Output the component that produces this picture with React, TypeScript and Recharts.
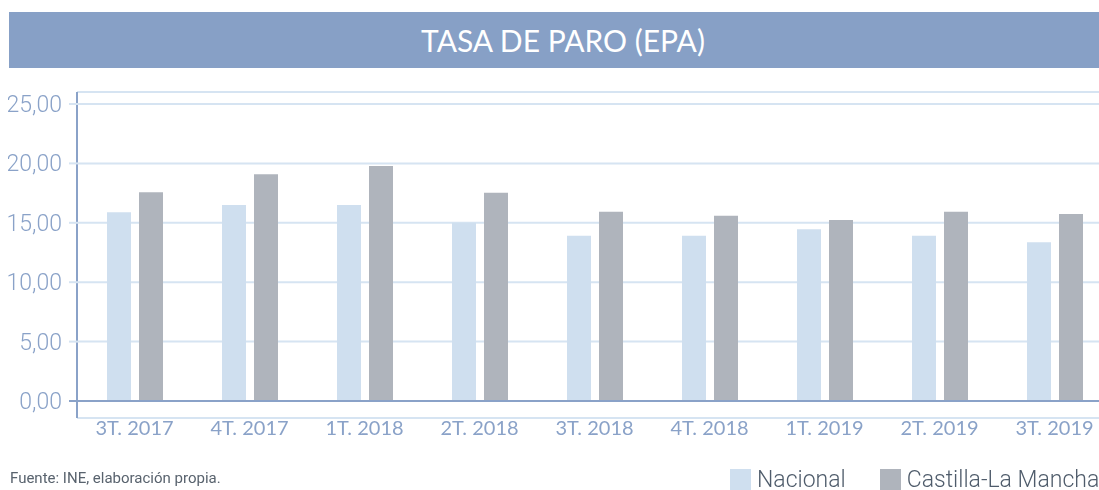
import { BarChart, Bar, XAxis, YAxis, CartesianGrid, ReferenceLine } from "recharts";

const quarters = ["3T. 2017", "4T. 2017", "1T. 2018", "2T. 2018", "3T. 2018", "4T. 2018", "1T. 2019", "2T. 2019", "3T. 2019"];
const nacional = [15.88, 16.5, 16.5, 15.0, 13.9, 13.9, 14.45, 13.9, 13.36];
const castillaLaMancha = [17.57, 19.08, 19.78, 17.53, 15.93, 15.6, 15.24, 15.93, 15.74];
const yTicks = [0, 5, 10, 15, 20, 25];

const seriesNames = ["Nacional", "Castilla-La Mancha"];
const seriesColors = ["#cfdfef", "#afb4bc"];

const axisColor = "#8aa2c8";
const gridColor = "#d6e4f2";

const data = quarters.map((q, i) => ({
  quarter: q,
  nacional: nacional[i],
  clm: castillaLaMancha[i],
}));

function YTick(props: any) {
  const { x, y, payload } = props;
  const v: number = payload.value;
  const axisX = x + 9;
  return (
    <g>
      <line x1={axisX - 9} x2={axisX} y1={y} y2={y} stroke={v === 0 ? axisColor : gridColor} strokeWidth={2} />
      <text
        x={axisX - 16}
        y={y}
        dy={8}
        textAnchor="end"
        fill={axisColor}
        fontFamily="Roboto"
        fontWeight={300}
        fontSize={23}
      >
        {v.toFixed(2).replace(".", ",")}
      </text>
    </g>
  );
}

export default function App() {
  return (
    <div style={{ position: "fixed", left: 8, top: 8, width: 1091, height: 482, overflow: "hidden" }}>
      <div
        style={{
          position: "absolute",
          left: 1,
          top: 4,
          width: 1108,
          height: 56,
          background: "#87a0c6",
          color: "#fff",
          fontFamily: "Lato",
          fontSize: 30,
          lineHeight: "56px",
          textAlign: "center",
        }}
      >
        TASA DE PARO (EPA)
      </div>
      <div style={{ position: "absolute", left: -1, top: 72 }}>
        <BarChart
          width={1105}
          height={380}
          data={data}
          margin={{ top: 12, right: 0, left: 0, bottom: 0 }}
          barSize={24}
          barGap={8}
        >
          <CartesianGrid horizontal vertical={false} stroke={gridColor} strokeWidth={2} />
          <XAxis
            dataKey="quarter"
            height={42}
            axisLine={false}
            tickLine={false}
            interval={0}
            tick={{ fill: axisColor, fontFamily: "Lato", fontSize: 20, dy: -5 }}
            tickMargin={2}
          />
          <YAxis
            width={70}
            domain={[-1.43, 26.01]}
            ticks={yTicks}
            axisLine={{ stroke: axisColor, strokeWidth: 2 }}
            tickLine={false}
            tick={<YTick />}
          />
          <Bar dataKey="nacional" name={seriesNames[0]} fill={seriesColors[0]} isAnimationActive={false} />
          <Bar dataKey="clm" name={seriesNames[1]} fill={seriesColors[1]} isAnimationActive={false} />
          <ReferenceLine y={0} stroke={axisColor} strokeWidth={2} />
        </BarChart>
      </div>
      <div
        style={{
          position: "absolute",
          left: 2,
          top: 461,
          fontFamily: "Roboto",
          fontSize: 15,
          color: "#59636e",
        }}
      >
        Fuente: INE, elaboración propia.
      </div>
      <div
        style={{
          position: "absolute",
          left: 722,
          top: 458,
          display: "flex",
          whiteSpace: "nowrap",
          fontFamily: "Roboto",
          fontWeight: 300,
          fontSize: 23,
          color: "#4f5c6b",
        }}
      >
        {seriesNames.map((n, i) => (
          <div key={n} style={{ display: "flex", alignItems: "center", marginRight: 34 }}>
            <span style={{ display: "inline-block", width: 21, height: 22, background: seriesColors[i], marginRight: 6 }} />
            <span>{n}</span>
          </div>
        ))}
      </div>
    </div>
  );
}
